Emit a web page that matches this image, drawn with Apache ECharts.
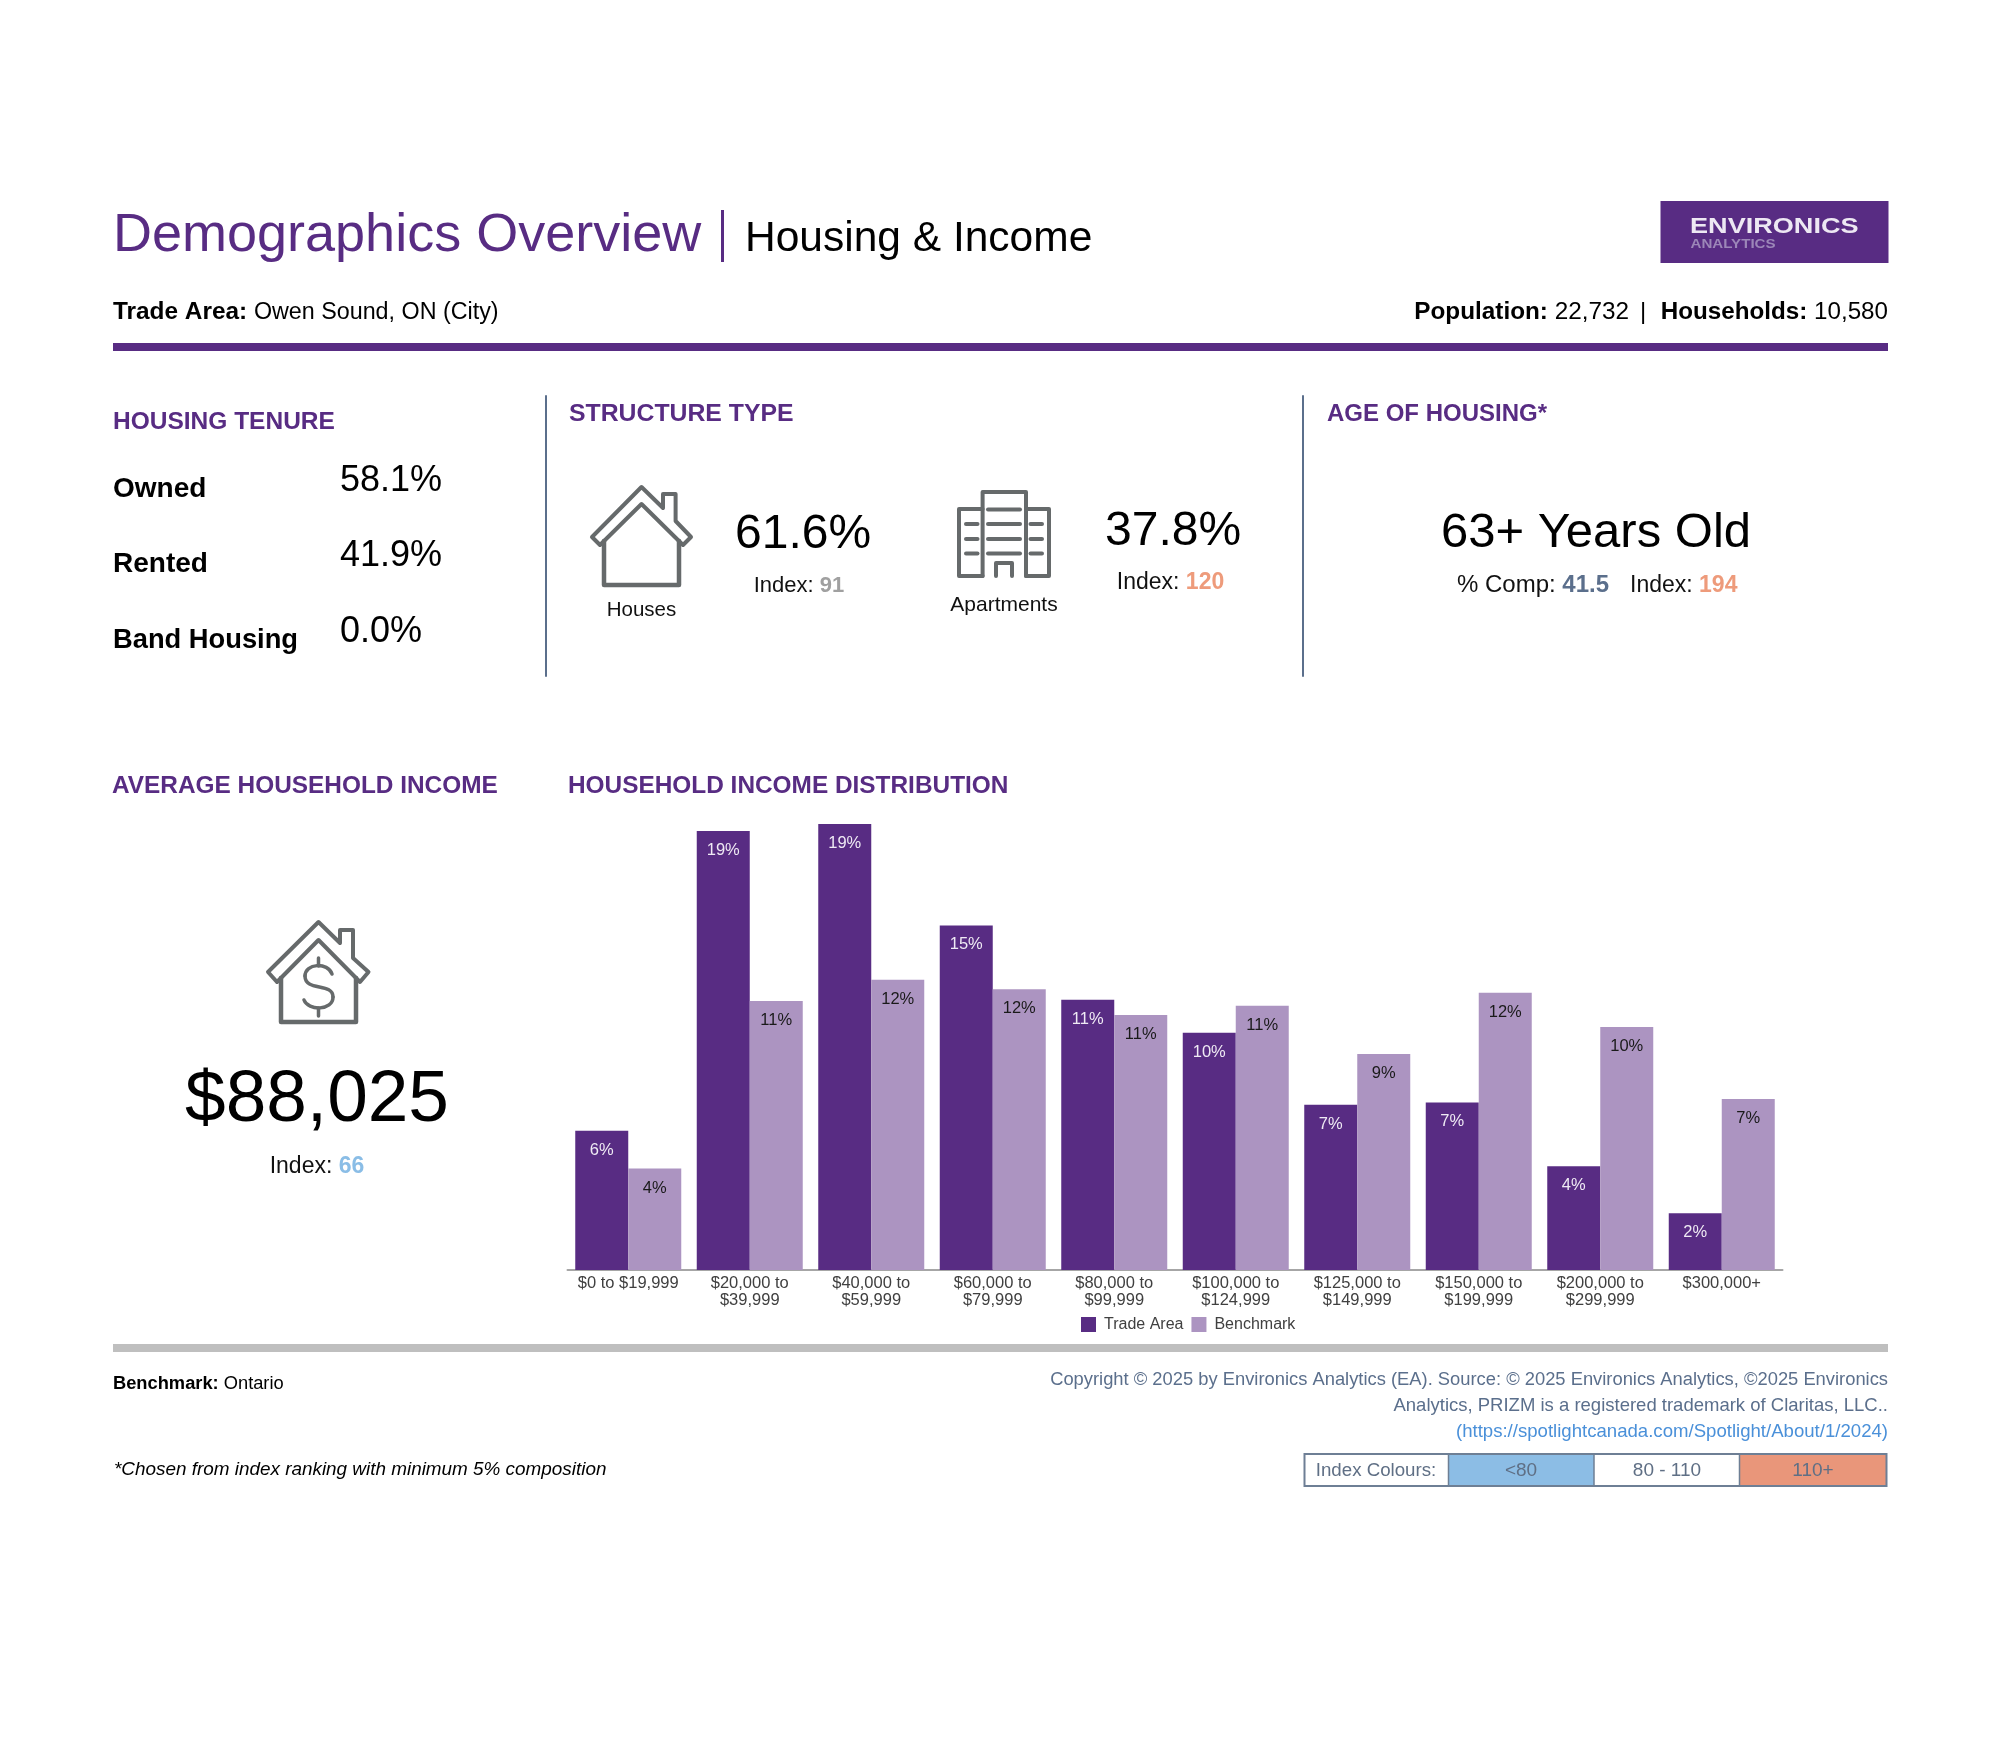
<!DOCTYPE html>
<html><head><meta charset="utf-8">
<style>html,body{margin:0;padding:0;background:#fff}#c{width:2000px;height:1750px}</style>
<script src="https://cdn.jsdelivr.net/npm/echarts@6/dist/echarts.min.js"></script>
</head><body><div id="c"></div>
<script>
const categories = ['$0 to $19,999','$20,000 to\n$39,999','$40,000 to\n$59,999','$60,000 to\n$79,999','$80,000 to\n$99,999','$100,000 to\n$124,999','$125,000 to\n$149,999','$150,000 to\n$199,999','$200,000 to\n$299,999','$300,000+'];
const tradeArea = [5.9,18.6,18.9,14.6,11.45,10.05,7.0,7.1,4.4,2.4];
const benchmark = [4.3,11.4,12.3,11.9,10.8,11.2,9.15,11.75,10.3,7.25];
const tenureLabels = ['Owned','Rented','Band Housing'];
const tenureValues = ['58.1%','41.9%','0.0%'];
const PURPLE='#582C83', LIGHT='#AC94C1', SLATE='#5B6F8C', ICON='#666a6b', ORANGE='#EE9B7B', SKY='#8ABDE6';
const F='"Liberation Sans", Arial, sans-serif';
const g=[];
function t(x,base,text,size,color,o){o=o||{};
  const s={text,x,y:base-0.3465*size,fontFamily:F,fontSize:size,fontWeight:o.bold?'bold':'normal',fontStyle:o.italic?'italic':'normal',fill:color||'#000',align:o.align||'left',verticalAlign:'middle'};
  if(o.rich){const r={};for(const k in o.rich){r[k]=Object.assign({fontFamily:F,fontSize:size,lineHeight:size*1.2},o.rich[k]);}s.rich=r;}
  g.push({type:'text',silent:true,style:s});
}
function ts(x,base,text,size,color,sx,bold){
  g.push({type:'text',silent:true,x:x,y:base-0.3465*size,scaleX:sx,originX:0,originY:0,style:{text,x:0,y:0,fontFamily:F,fontSize:size,fontWeight:bold?'bold':'normal',fill:color,align:'left',verticalAlign:'middle'}});
}
function R(x,y,w,h,c,o){g.push({type:'rect',silent:true,shape:{x,y,width:w,height:h},style:Object.assign({fill:c},o||{})});}
function L(x1,y1,x2,y2,c,w){g.push({type:'line',silent:true,shape:{x1,y1,x2,y2},style:{stroke:c,lineWidth:w,lineCap:'round'}});}
function P(points,c,w,closed){g.push({type:closed?'polygon':'polyline',silent:true,shape:{points},style:{stroke:c,lineWidth:w,fill:null,lineJoin:'round',lineCap:'round'}});}
function B(a,c,w){g.push({type:'bezierCurve',silent:true,shape:{x1:a[0],y1:a[1],cpx1:a[2],cpy1:a[3],cpx2:a[4],cpy2:a[5],x2:a[6],y2:a[7]},style:{stroke:c,lineWidth:w,fill:null,lineCap:'round'}});}
const bw={b:{fontWeight:'bold',fill:'#000'},r:{fill:'#000'}};

// header
t(113,255,'Demographics Overview',54,PURPLE);
R(721,210,3,52,PURPLE);
t(745,254,'Housing & Income',42.5,'#000');
R(1660.5,201,228,62,PURPLE);
ts(1690,234.5,'ENVIRONICS',21.5,'#EDE8F3',1.26,true);
ts(1690.5,249,'ANALYTICS',12.6,'#9C87B8',1.2,true);
t(113,321,'{b|Trade Area:} {r|Owen Sound, ON (City)}',24,'#000',{rich:{b:{fontWeight:'bold',fill:'#000',fontSize:24.4},r:{fill:'#000',fontSize:23.3}}});
t(1629,321,'{b|Population:} {r|22,732}',24.3,'#000',{align:'right',rich:bw});
t(1643,321,'|',24,'#000',{align:'center'});
t(1888,321,'{b|Households:} {r|10,580}',24.2,'#000',{align:'right',rich:bw});
R(113,343,1775,8,PURPLE);

// housing tenure
t(113,431,'HOUSING TENURE',24.5,PURPLE,{bold:true});
[499,574,650].forEach((b,i)=>t(113,b,tenureLabels[i],i===2?27.3:28,'#000',{bold:true}));
[494,569,645].forEach((b,i)=>t(340,b,tenureValues[i],36,'#000'));
L(546,396,546,676,SLATE,2); L(1303,396,1303,676,SLATE,2);

// structure type
t(569,423,'STRUCTURE TYPE',24.8,PURPLE,{bold:true});
t(1327,423,'AGE OF HOUSING*',24,PURPLE,{bold:true});
P([[641.5,487],[663,508],[663,494],[675.6,494],[675.6,521],[691,537],[683,545],[641.5,504],[600,545],[592,537]],ICON,4,true);
P([[604,541],[604,585],[679,585],[679,541]],ICON,4.5);
t(641.5,617,'Houses',20.5,'#111',{align:'center'});
t(735,551,'61.6%',48,'#000');
t(799,593.5,'{r|Index: }{g|91}',22,'#000',{align:'center',rich:{r:{fill:'#111'},g:{fill:'#A0A0A0',fontWeight:'bold'}}});
P([[982.6,576],[982.6,492],[1026,492],[1026,576]],ICON,4);
P([[982.6,509],[959,509],[959,576],[982.6,576]],ICON,4);
P([[1026,509],[1049,509],[1049,576],[1026,576]],ICON,4);
[509.5,524,539,553.5].forEach(y=>L(988,y,1020,y,ICON,4));
[524,539,553.5].forEach(y=>{L(966,y,977.5,y,ICON,4);L(1030.5,y,1042,y,ICON,4);});
P([[996,576],[996,563],[1012,563],[1012,576]],ICON,4);
t(1004,612,'Apartments',21,'#111',{align:'center'});
t(1105,548,'37.8%',48,'#000');
t(1170.5,591,'{r|Index: }{o|120}',23,'#000',{align:'center',rich:{r:{fill:'#111'},o:{fill:ORANGE,fontWeight:'bold'}}});

// age of housing
t(1596,550,'63+ Years Old',49,'#000',{align:'center'});
t(1457,594,'{r|% Comp: }{s|41.5}',24,'#000',{rich:{r:{fill:'#111'},s:{fill:SLATE,fontWeight:'bold'}}});
t(1630,594,'{r|Index: }{o|194}',23,'#000',{rich:{r:{fill:'#111'},o:{fill:ORANGE,fontWeight:'bold'}}});

// income
t(112,795,'AVERAGE HOUSEHOLD INCOME',24.4,PURPLE,{bold:true});
t(568,795,'HOUSEHOLD INCOME DISTRIBUTION',24.4,PURPLE,{bold:true});
P([[318.5,922],[340,943],[340,930],[353,930],[353,958],[368.5,972],[360,982],[318.5,940],[277,982],[268,972]],ICON,4,true);
P([[281,978],[281,1022],[356,1022],[356,978]],ICON,4.5);
B([332,974,328,962,305,963,305,976],ICON,3.5);
B([305,976,305,992,333,982,333,997],ICON,3.5);
B([333,997,333,1011,308,1011,304,1000],ICON,3.5);
L(318.5,958,318.5,966,ICON,3.5); L(318.5,1008,318.5,1016,ICON,3.5);
t(317,1126,'$88,025',73,'#000',{align:'center'});
t(317,1175,'{r|Index: }{s|66}',23,'#000',{align:'center',rich:{r:{fill:'#111'},s:{fill:SKY,fontWeight:'bold'}}});

// footer
R(113,1344,1775,8,'#BFBFBF');
t(113,1390,'{b|Benchmark:} {r|Ontario}',18.3,'#000',{rich:bw});
t(1888,1386.5,'Copyright © 2025 by Environics Analytics (EA). Source: © 2025 Environics Analytics, ©2025 Environics',18.35,SLATE,{align:'right'});
t(1888,1412,'Analytics, PRIZM is a registered trademark of Claritas, LLC..',18.5,SLATE,{align:'right'});
t(1888,1438,'(https://spotlightcanada.com/Spotlight/About/1/2024)',18.6,'#4A90D9',{align:'right'});
t(114,1476,'*Chosen from index ranking with minimum 5% composition',18.9,'#000',{italic:true});
R(1448,1454,146,32,'#8CBDE5'); R(1739.5,1454,147,32,'#E9967A');
R(1304.5,1454,582,32,null,{fill:'none',stroke:'#6E7F95',lineWidth:2});
L(1448.5,1454,1448.5,1486,'#6E7F95',1.5); L(1594,1454,1594,1486,'#6E7F95',1.5); L(1739.5,1454,1739.5,1486,'#6E7F95',1.5);
t(1376,1477.5,'Index Colours:',18.7,'#5F6F85',{align:'center'});
t(1521,1477.5,'<80',19,'#5F6F85',{align:'center'});
t(1667,1477.5,'80 - 110',19,'#5F6F85',{align:'center'});
t(1813,1477.5,'110+',19,'#5F6F85',{align:'center'});

const fmt=p=>Math.round(p.value)+'%';
const chart=echarts.init(document.getElementById('c'),null,{renderer:'canvas',width:2000,height:1750});
chart.setOption({
  animation:false,backgroundColor:'#fff',textStyle:{fontFamily:F},
  grid:{left:567.5,top:798,width:1215,height:472,containLabel:false},
  xAxis:{type:'category',data:categories,
    axisLine:{lineStyle:{color:'#A6A6A6',width:2}},axisTick:{show:false},
    axisLabel:{interval:0,margin:5,fontSize:16.5,lineHeight:17,color:'#404040',fontFamily:F}},
  yAxis:{type:'value',min:0,max:20,show:false},
  legend:{left:1076,top:1311.5,itemWidth:15,itemHeight:15,itemGap:8,icon:'rect',selectedMode:false,
    textStyle:{fontSize:16,color:'#404040',fontFamily:F,padding:[0,0,0,3]},data:['Trade Area','Benchmark']},
  series:[
    {name:'Trade Area',type:'bar',data:tradeArea,barWidth:53,barGap:0,itemStyle:{color:PURPLE},
      label:{show:true,position:'insideTop',distance:11,fontSize:16.5,color:'#EFEAF4',fontFamily:F,formatter:fmt}},
    {name:'Benchmark',type:'bar',data:benchmark,barWidth:53,barGap:0,itemStyle:{color:LIGHT},
      label:{show:true,position:'insideTop',distance:11,fontSize:16.5,color:'#1A1A1A',fontFamily:F,formatter:fmt}}
  ],
  graphic:{elements:g}
});
</script></body></html>
